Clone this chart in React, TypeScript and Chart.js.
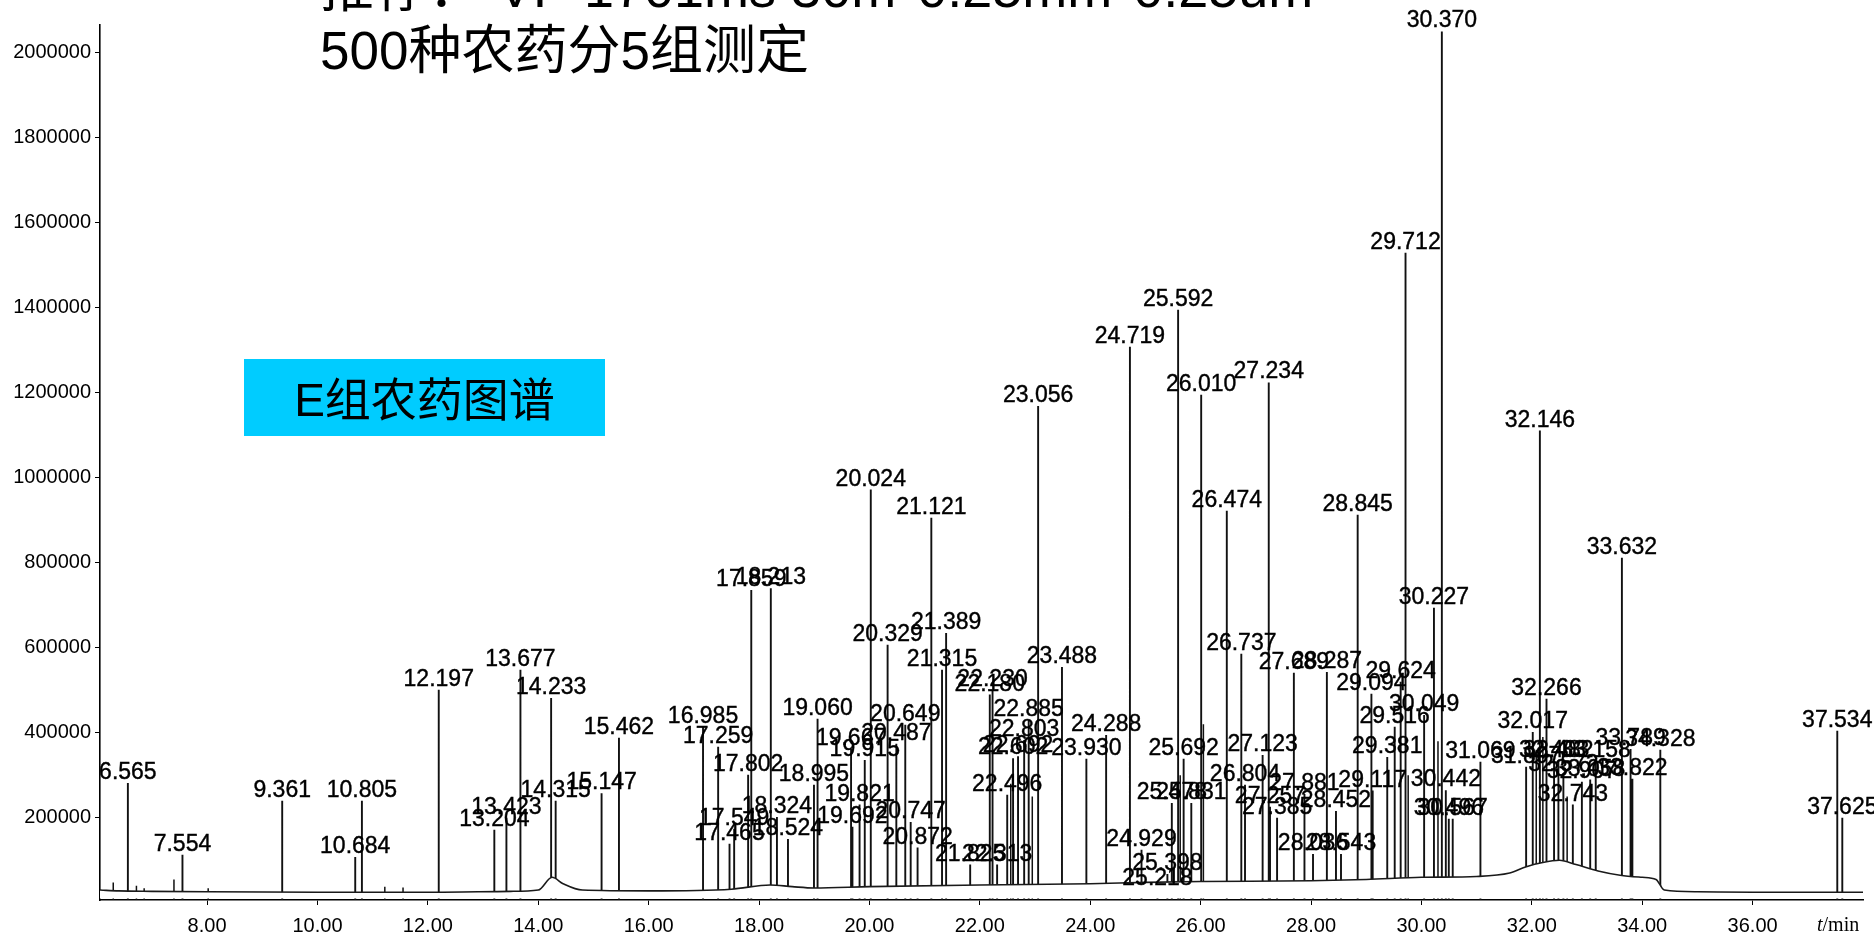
import React, { useEffect, useRef } from "react";
import { Chart, registerables } from "chart.js";

Chart.register(...registerables);

// Retention times (min) of the labelled peaks and their heights (abundance)
const peakTimes = [
  6.565, 7.554, 9.361, 10.684, 10.805, 12.197, 13.204, 13.423, 13.677, 14.233, 14.315, 15.147, 15.462,
  16.985, 17.259, 17.465, 17.549, 17.802, 17.859, 18.213, 18.324, 18.524, 18.995, 19.06,
  19.667, 19.692, 19.821, 19.915, 20.024, 20.329, 20.487, 20.649, 20.747, 20.872,
  21.121, 21.315, 21.389, 21.825, 22.18, 22.23, 22.313, 22.496, 22.602, 22.692, 22.803, 22.885,
  23.056, 23.488, 23.93, 24.288, 24.719, 24.929, 25.218, 25.398, 25.478, 25.592, 25.692, 25.831,
  26.01, 26.474, 26.737, 26.804, 27.123, 27.234, 27.257, 27.385, 27.689, 27.881, 28.036, 28.287,
  28.452, 28.543, 28.845, 29.094, 29.117, 29.381, 29.516, 29.624, 29.712, 30.049, 30.227, 30.37,
  30.442, 30.496, 30.567, 31.069, 31.897, 32.017, 32.146, 32.266, 32.403, 32.482, 32.572, 32.743,
  32.907, 33.058, 33.158, 33.632, 33.789, 33.822, 34.328, 37.534, 37.625,
];
const peakHeights = [
  282000, 113000, 240000, 108000, 240000, 501000, 172000, 200000, 548000, 482000, 240000, 258000, 388000,
  414000, 367000, 139000, 174000, 301000, 736000, 740000, 202000, 150000, 278000, 433000,
  362000, 179000, 231000, 336000, 972000, 607000, 374000, 419000, 190000, 130000,
  906000, 548000, 635000, 90000, 490000, 500000, 90000, 254000, 340000, 345000, 383000, 430000,
  1169000, 555000, 339000, 395000, 1308000, 125000, 32000, 68000, 235000, 1395000, 339000, 235000,
  1195000, 922000, 586000, 278000, 348000, 1224000, 226000, 200000, 541000, 256000, 115000, 543000,
  216000, 115000, 913000, 492000, 264000, 343000, 414000, 520000, 1529000, 442000, 694000, 2050000,
  265000, 198000, 198000, 332000, 320000, 402000, 1111000, 480000, 334000, 334000, 300000, 231000,
  285000, 290000, 334000, 812000, 362000, 292000, 360000, 405000, 200000,
];

// Small unlabelled peaks
const minorTimes = [6.3, 6.72, 6.86, 7.4, 8.02, 11.22, 11.55, 22.56, 22.95, 25.63, 26.05, 29.76, 30.3, 32.08, 32.2, 32.64];
const minorHeights = [48000, 40000, 34000, 55000, 34000, 38000, 36000, 280000, 250000, 300000, 420000, 300000, 380000, 360000, 390000, 250000];

// Baseline trace
const baseTimes = [6.06, 6.4, 7.0, 8.0, 10.0, 12.0, 13.5, 14.0, 14.25, 14.45, 14.8, 16.0, 17.5, 18.2, 18.6, 19.0, 20.0, 22.0, 24.0, 25.0, 26.0, 28.0, 29.0, 30.0, 31.0, 31.6, 31.9, 32.2, 32.5, 32.8, 33.2, 33.6, 34.0, 34.25, 34.4, 35.0, 36.0, 37.0, 38.0];
const baseValues = [30000, 28000, 27000, 26000, 25000, 25000, 27000, 30000, 60000, 45000, 30000, 28000, 32000, 42000, 38000, 35000, 38000, 42000, 45000, 48000, 50000, 52000, 55000, 60000, 62000, 70000, 85000, 95000, 100000, 90000, 75000, 65000, 60000, 55000, 30000, 26000, 25000, 25000, 25000];

const yTicks = [200000, 400000, 600000, 800000, 1000000, 1200000, 1400000, 1600000, 1800000, 2000000];
const xTicks = [8, 10, 12, 14, 16, 18, 20, 22, 24, 26, 28, 30, 32, 34, 36];

const X_MIN = 6.06;
const X_MAX = 38.0;
const Y_MIN = 6600;
const Y_MAX = 2065000;
const W = 1874;
const H = 938;

const labelPlugin = {
  id: "peakLabels",
  afterDatasetsDraw(chart: any) {
    const { ctx, scales } = chart;
    const xs = scales.x;
    const ys = scales.y;
    ctx.save();
    ctx.fillStyle = "#000";
    ctx.strokeStyle = "#000";
    ctx.lineWidth = 0.4;
    ctx.font = '23px "Liberation Sans", Arial, sans-serif';
    ctx.textAlign = "center";
    ctx.textBaseline = "alphabetic";
    peakTimes.forEach((t, i) => {
      const px = xs.getPixelForValue(t);
      const py = ys.getPixelForValue(peakHeights[i]);
      ctx.fillText(t.toFixed(3), px, py - 4);
      ctx.strokeText(t.toFixed(3), px, py - 4);
    });
    ctx.restore();
  },
};

function spikes(times: number[], heights: number[]) {
  const out: any[] = [];
  times.forEach((t, i) => {
    out.push({ x: t, y: Y_MIN });
    out.push({ x: t, y: heights[i] });
    out.push({ x: t, y: null });
  });
  return out;
}

export default function App() {
  const ref = useRef<HTMLCanvasElement | null>(null);

  useEffect(() => {
    if (!ref.current) return;
    const chart = new Chart(ref.current, {
      type: "line",
      data: {
        datasets: [
          {
            label: "baseline",
            data: baseTimes.map((t, i) => ({ x: t, y: baseValues[i] })),
            borderColor: "#1a1a1a",
            borderWidth: 1.6,
            pointRadius: 0,
            cubicInterpolationMode: "monotone",
            fill: { value: 10000 },
            backgroundColor: "#ffffff",
          } as any,
          {
            label: "peaks",
            data: spikes(peakTimes, peakHeights),
            borderColor: "#111",
            borderWidth: 1.9,
            pointRadius: 0,
            spanGaps: false,
            tension: 0,
          } as any,
          {
            label: "minor",
            data: spikes(minorTimes, minorHeights),
            borderColor: "#111",
            borderWidth: 1.5,
            pointRadius: 0,
            spanGaps: false,
            tension: 0,
          } as any,
        ],
      },
      options: {
        animation: false,
        responsive: false,
        devicePixelRatio: 1,
        layout: { padding: { left: 0, right: 11, top: 25, bottom: 0 } },
        plugins: { legend: { display: false }, tooltip: { enabled: false } },
        scales: {
          x: {
            type: "linear",
            min: X_MIN,
            max: X_MAX,
            afterBuildTicks: (s: any) => {
              s.ticks = xTicks.map((v) => ({ value: v }));
            },
            afterFit: (s: any) => {
              s.height = 38;
            },
            grid: { drawOnChartArea: false, drawTicks: true, tickLength: 5, color: "#000" },
            border: { display: true, color: "#000", width: 1.6 },
            ticks: {
              callback: (v: any) => Number(v).toFixed(2),
              font: { family: '"Liberation Sans", Arial, sans-serif', size: 20 },
              color: "#000",
              padding: 9,
              maxRotation: 0,
              autoSkip: false,
            },
          },
          y: {
            type: "linear",
            min: Y_MIN,
            max: Y_MAX,
            afterBuildTicks: (s: any) => {
              s.ticks = yTicks.map((v) => ({ value: v }));
            },
            afterFit: (s: any) => {
              s.width = 100;
            },
            grid: { drawOnChartArea: false, drawTicks: true, tickLength: 5, color: "#000" },
            border: { display: true, color: "#000", width: 1.6 },
            ticks: {
              callback: (v: any) => String(v),
              font: { family: '"Liberation Sans", Arial, sans-serif', size: 20 },
              color: "#000",
              padding: 4,
            },
          },
        },
      } as any,
      plugins: [labelPlugin],
    });
    return () => chart.destroy();
  }, []);

  const cjk = "'Liberation Sans', 'Noto Sans CJK SC', sans-serif";

  return (
    <div style={{ position: "absolute", left: 0, top: 0, width: W, height: H, background: "#fff", overflow: "hidden" }}>
      <canvas ref={ref} width={W} height={H} style={{ position: "absolute", left: 0, top: 0, width: W, height: H }} />
      <svg width={W} height={H} style={{ position: "absolute", left: 0, top: 0, pointerEvents: "none" }}>
        <text x={320} y={7} fontFamily={cjk} fontSize={54} fill="#000">推荐： VF-1701ms 30m*0.25mm*0.25um</text>
        <text x={320} y={69} fontFamily={cjk} fontSize={53} fill="#000">500种农药分5组测定</text>
        <rect x={244} y={359} width={361} height={77} fill="#00CCFF" />
        <text x={424.5} y={416} textAnchor="middle" fontFamily={cjk} fontSize={46} fill="#000">E组农药图谱</text>
        <text x={1817} y={931} fontFamily="'Liberation Serif', serif" fontSize={20} fill="#000">
          <tspan fontStyle="italic">t</tspan>/min
        </text>
      </svg>
    </div>
  );
}
